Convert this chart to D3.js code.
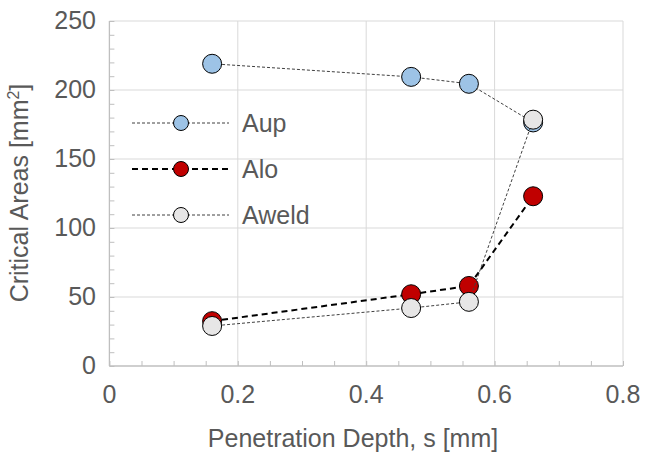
<!DOCTYPE html>
<html>
<head>
<meta charset="utf-8">
<script src="https://cdn.jsdelivr.net/npm/d3@7"></script>
<style>
  body { margin: 0; background: #fff; }
  text { font-family: "Liberation Sans", Arial, sans-serif; fill: #595959; }
</style>
</head>
<body>
<svg width="645" height="453"></svg>
<script>
// data
const depth = [0.16, 0.47, 0.56, 0.66];
const aup = [219, 209.5, 204.5, 176.5];
const alo = [32.5, 52, 58, 123];
const aweld = [29, 42, 46.5, 178.5];
const xTicks = [0, 0.2, 0.4, 0.6, 0.8];
const yTicks = [0, 50, 100, 150, 200, 250];

const svg = d3.select('svg');
const plotLeft = 109.4, plotRight = 623, plotTop = 21, plotBottom = 366;

const xScale = d3.scaleLinear().domain([0, 0.8]).range([plotLeft, plotRight]);
const yScale = d3.scaleLinear().domain([0, 250]).range([plotBottom, plotTop]);

// gridlines
svg.append('g').selectAll('line')
    .data(xTicks.slice(1))
    .enter().append('line')
    .attr('x1', d => xScale(d)).attr('x2', d => xScale(d))
    .attr('y1', plotTop).attr('y2', plotBottom)
    .attr('stroke', '#d9d9d9');
svg.append('g').selectAll('line')
    .data(yTicks.slice(1))
    .enter().append('line')
    .attr('x1', plotLeft).attr('x2', plotRight)
    .attr('y1', d => yScale(d)).attr('y2', d => yScale(d))
    .attr('stroke', '#d9d9d9');

// axes with inward minor ticks
const xAxis = d3.axisTop(xScale).ticks(20).tickSize(5).tickFormat('');
const yAxis = d3.axisRight(yScale).ticks(25).tickSize(5).tickFormat('');

const gx = svg.append('g')
    .attr('transform', 'translate(0,' + plotBottom + ')')
    .call(xAxis);
const gy = svg.append('g')
    .attr('transform', 'translate(' + plotLeft + ',0)')
    .call(yAxis);
[gx, gy].forEach(g => {
    g.select('.domain').attr('stroke', '#bfbfbf').attr('stroke-width', 1.3);
    g.selectAll('.tick line').attr('stroke', '#bfbfbf');
});
gx.select('.domain').attr('d', 'M' + plotLeft + ',0H' + plotRight);
gy.select('.domain').attr('d', 'M0,' + plotBottom + 'V' + plotTop);

// tick labels
svg.append('g').selectAll('text')
    .data(xTicks)
    .enter().append('text')
    .attr('x', d => xScale(d))
    .attr('y', 403)
    .attr('text-anchor', 'middle')
    .style('font-size', '25px')
    .text(d => d === 0 ? '0' : d.toFixed(1));
svg.append('g').selectAll('text')
    .data(yTicks)
    .enter().append('text')
    .attr('x', 96)
    .attr('y', d => yScale(d) + 8)
    .attr('text-anchor', 'end')
    .style('font-size', '25px')
    .text(d => d);

// axis titles
svg.append('text')
    .attr('x', 353).attr('y', 447)
    .attr('text-anchor', 'middle')
    .style('font-size', '25px')
    .text('Penetration Depth, s [mm]');
const yt = svg.append('text')
    .attr('transform', 'translate(28,193) rotate(-90)')
    .attr('text-anchor', 'middle')
    .style('font-size', '25px');
yt.append('tspan').text('Critical Areas [mm');
yt.append('tspan').attr('dy', -9).style('font-size', '16px').text('2');
yt.append('tspan').attr('dy', 9).text(']');

// series
const series = [
    {name: 'Aup', values: aup, fill: '#9dc3e6', width: 1, dash: '3,2', stroke: '#404040'},
    {name: 'Alo', values: alo, fill: '#c00000', width: 2, dash: '6,4', stroke: '#000'},
    {name: 'Aweld', values: aweld, fill: '#e7e6e6', width: 1, dash: '3,2', stroke: '#404040'}
];

const line = d3.line().x(d => xScale(d[0])).y(d => yScale(d[1]));

series.forEach(s => {
    const pts = depth.map((d, i) => [d, s.values[i]]);
    svg.append('path')
        .attr('d', line(pts))
        .attr('fill', 'none')
        .attr('stroke', s.stroke)
        .attr('stroke-width', s.width)
        .attr('stroke-dasharray', s.dash);
    svg.append('g').selectAll('circle')
        .data(pts)
        .enter().append('circle')
        .attr('cx', d => xScale(d[0]))
        .attr('cy', d => yScale(d[1]))
        .attr('r', 9.5)
        .attr('fill', s.fill)
        .attr('stroke', '#000')
        .attr('stroke-width', 1);
});

// legend
const legend = svg.append('g');
series.forEach((s, i) => {
    const y = 123 + i * 46;
    legend.append('line')
        .attr('x1', 132).attr('x2', 229)
        .attr('y1', y).attr('y2', y)
        .attr('stroke', s.stroke)
        .attr('stroke-width', s.width)
        .attr('stroke-dasharray', s.dash);
    legend.append('circle')
        .attr('cx', 181).attr('cy', y).attr('r', 7.5)
        .attr('fill', s.fill).attr('stroke', '#000');
    legend.append('text')
        .attr('x', 242).attr('y', y + 8.5)
        .style('font-size', '25px')
        .text(s.name);
});
</script>
</body>
</html>
